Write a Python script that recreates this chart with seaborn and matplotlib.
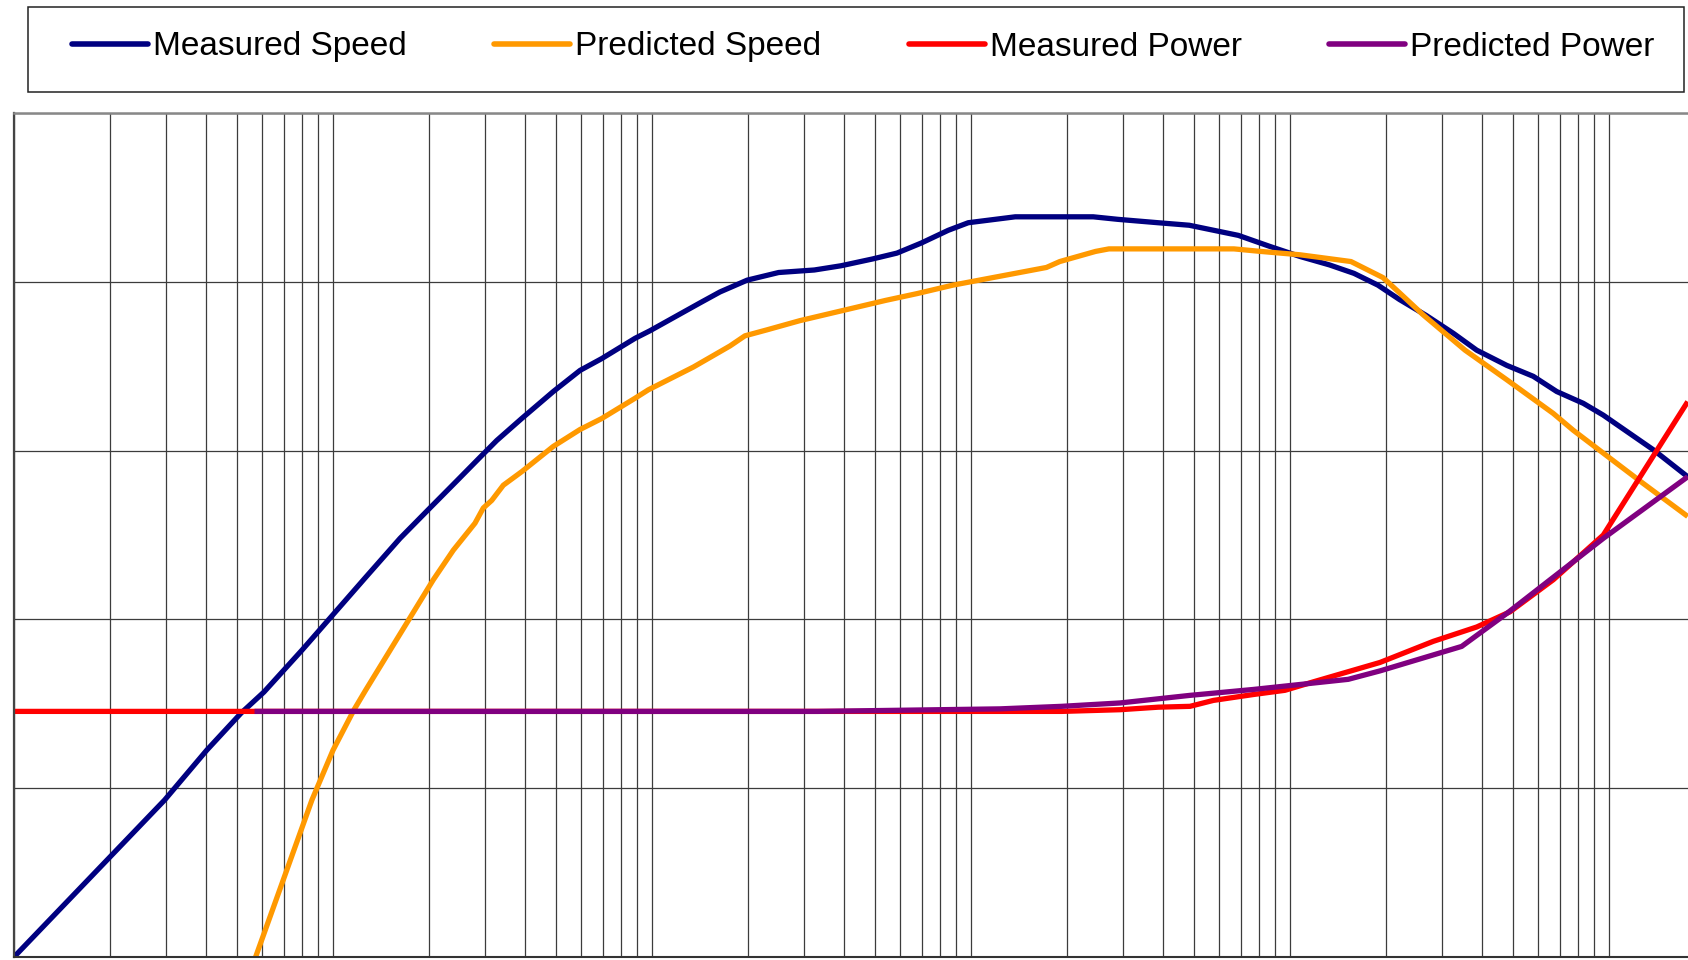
import matplotlib
matplotlib.use("Agg")
import numpy as np
import pandas as pd
import matplotlib.pyplot as plt
import seaborn as sns
from matplotlib.ticker import LogLocator, NullFormatter
from matplotlib.patches import Rectangle

# ---------------- data ----------------
series_names = ["Measured Speed", "Predicted Speed", "Measured Power", "Predicted Power"]
series_colors = ["#000080", "#FF9900", "#FF0000", "#800080"]

ms_x = [1, 2.966, 4.019, 5.151, 6.077, 8.013, 12.60, 16.22, 19.89, 24.42, 29.59, 32.61, 39.04,
        49.05, 59.48, 69.56, 88.45, 98.56, 141.4, 163.4, 198.9, 249.4, 322.8, 391.3, 490.5, 585.9,
        699.1, 848.3, 980.6, 1376, 1961, 2417, 2887, 3857, 4834, 6890, 8634, 10750, 13300, 15870,
        18870, 22040, 26770, 32510, 38480, 47790, 57900, 68560, 83080, 95970, 137700, 176500]
ms_y = [0, 18.6, 24.5, 28.9, 31.4, 36.4, 44.9, 49.6, 53.0, 56.4, 59.6, 61.2, 63.8,
        67.0, 69.5, 70.9, 73.3, 74.2, 77.5, 78.8, 80.2, 81.1, 81.4, 81.9, 82.7, 83.4,
        84.6, 86.1, 87.0, 87.7, 87.7, 87.7, 87.4, 87.0, 86.7, 85.5, 84.2, 83.0, 82.0, 81.0,
        79.6, 77.9, 76.0, 73.9, 71.9, 70.1, 68.8, 67.0, 65.6, 64.2, 60.1, 56.9]

ps_x = [5.72, 8.588, 10.0, 11.64, 12.65, 15.13, 20.63, 23.83, 27.87, 29.59, 31.45, 34.19, 39.04,
        49.05, 59.48, 69.56, 88.45, 97.37, 134.8, 175.6, 195.6, 228.9, 291.0, 540.3, 677.1, 876.3,
        1063, 1332, 1724, 1898, 2457, 2706, 6671, 8094, 10750, 15530, 19560, 22040, 26120, 31290,
        35370, 47790, 66900, 77310, 95970, 128100, 176500]
ps_y = [0, 18.6, 24.5, 29.3, 31.6, 36.4, 44.7, 48.2, 51.4, 53.2, 54.1, 55.9, 57.5,
        60.5, 62.5, 63.8, 66.2, 67.2, 69.9, 72.4, 73.6, 74.3, 75.4, 77.8, 78.6, 79.6,
        80.2, 80.9, 81.7, 82.4, 83.6, 83.9, 83.9, 83.6, 83.2, 82.4, 80.5, 78.7, 76.1, 73.6,
        71.9, 68.4, 64.4, 62.4, 59.7, 56.1, 52.2]

mp_x = [1, 1924, 2932, 3866, 4859, 5748, 7674, 9645, 11830, 19150, 28130, 38480, 48940,
        66900, 95970, 176500]
mp_y = [29.1, 29.1, 29.3, 29.6, 29.7, 30.4, 31.1, 31.6, 32.6, 34.9, 37.4, 39.1, 40.9,
        44.7, 50.0, 65.8]

pp_x = [5.675, 331.5, 1233, 1924, 2932, 4859, 7674, 15230, 19150, 34530, 47790, 95970, 176500]
pp_y = [29.1, 29.1, 29.4, 29.7, 30.1, 31.0, 31.7, 32.9, 33.9, 36.8, 40.7, 49.6, 56.9]

y_ticks = [0, 20, 40, 60, 80, 100]

# ---------------- build long table ----------------
frames = []
for name, xs, ys in zip(series_names, [ms_x, ps_x, mp_x, pp_x], [ms_y, ps_y, mp_y, pp_y]):
    frames.append(pd.DataFrame({"x": xs, "y": ys, "series": name}))
df = pd.concat(frames, ignore_index=True)

# ---------------- figure ----------------
sns.set_style("white")
plt.rcParams["font.family"] = ["Liberation Sans", "DejaVu Sans"]

W, H = 1688, 960
fig = plt.figure(figsize=(W / 100, H / 100), dpi=100)
fig.patch.set_facecolor("white")

left_px, bottom_px, top_px = 14, 957, 113
decade_px = 319.0
ax = fig.add_axes([left_px / W, (H - bottom_px) / H, (W - left_px) / W, (bottom_px - top_px) / H])

sns.lineplot(data=df, x="x", y="y", hue="series", hue_order=series_names,
             palette=dict(zip(series_names, series_colors)), linewidth=3.8,
             estimator=None, sort=False, ax=ax)
for ln in ax.lines:
    ln.set_solid_joinstyle("round")
    ln.set_solid_capstyle("butt")

ax.set_xscale("log")
ax.set_xlim(1, 10 ** ((W - left_px) / decade_px))
ax.set_ylim(y_ticks[0], y_ticks[-1])
ax.set_yticks(y_ticks)
ax.xaxis.set_major_locator(LogLocator(base=10, numticks=20))
ax.xaxis.set_minor_locator(LogLocator(base=10, subs=np.arange(2, 10), numticks=200))
ax.xaxis.set_minor_formatter(NullFormatter())
ax.set_xlabel("")
ax.set_ylabel("")

grid_kw = dict(color="#3c3c3c", linewidth=0.9)
ax.grid(True, which="both", axis="x", **grid_kw)
ax.grid(True, which="major", axis="y", **grid_kw)
ax.set_axisbelow(True)

ax.tick_params(axis="y", which="major", direction="out", length=6, width=1.0,
               color="#333333", labelleft=False)
ax.tick_params(axis="x", which="major", direction="out", length=6, width=1.0,
               color="#333333", labelbottom=False)
ax.tick_params(axis="x", which="minor", length=0, labelbottom=False)

ax.spines["right"].set_visible(False)
ax.spines["top"].set_color("#888888")
ax.spines["top"].set_linewidth(1.8)
ax.spines["left"].set_color("#444444")
ax.spines["left"].set_linewidth(1.6)
ax.spines["bottom"].set_color("#333333")
ax.spines["bottom"].set_linewidth(1.5)

# ---------------- legend ----------------
old = ax.get_legend()
handles = list(old.legend_handles)
labels = [t.get_text() for t in old.get_texts()]
old.remove()

leg = fig.legend(handles, labels, loc="center left",
                 bbox_to_anchor=(72 / W, 1 - 47 / H), ncol=4, frameon=False,
                 fontsize=24, handlelength=2.28, handletextpad=0.15,
                 columnspacing=2.62, borderpad=0, borderaxespad=0)
for ln in leg.get_lines():
    ln.set_linewidth(4.0)
    ln.set_solid_capstyle("round")
for t in leg.get_texts():
    t.set_color("black")

fig.add_artist(Rectangle((28 / W, 1 - 92 / H), (1684 - 28) / W, 85 / H,
                         transform=fig.transFigure, fill=False,
                         edgecolor="#222222", linewidth=1.1))

fig.savefig("out.png", dpi=100, facecolor="white")
